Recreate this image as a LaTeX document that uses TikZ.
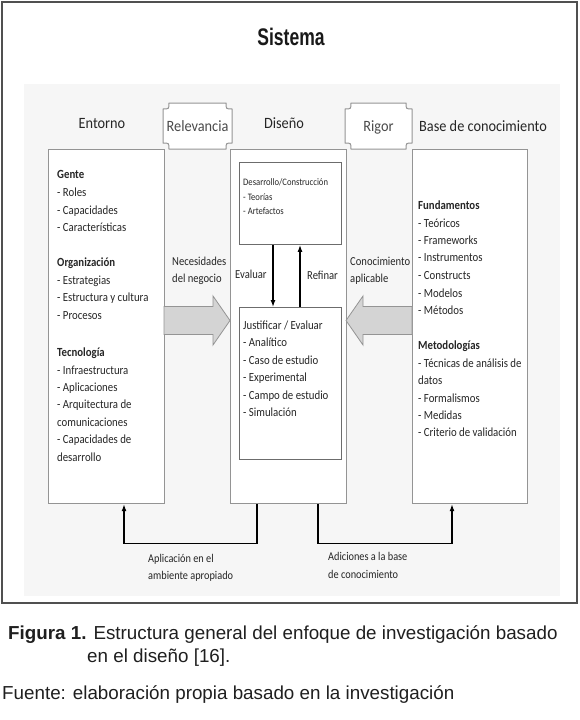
\documentclass[tikz,border=0pt]{standalone}
\usepackage{fontspec}
\setmainfont{Liberation Sans}
\newfontfamily\carl{Carlito}
\usetikzlibrary{arrows.meta}
\newcommand{\vstr}[1]{\scalebox{1}[1.15]{#1}}
\definecolor{boxgray}{HTML}{949494}
\definecolor{inboxgray}{HTML}{6C6C6C}
\definecolor{arrowfill}{HTML}{D4D4D4}
\definecolor{txt}{HTML}{262626}
\definecolor{tagtxt}{HTML}{4A4A4A}
\definecolor{framecol}{HTML}{505050}
\definecolor{bgcol}{HTML}{F6F6F6}
\begin{document}
\begin{tikzpicture}[x=1pt,y=-1pt,
  box/.style={draw=boxgray, line width=1.2pt, fill=white, inner sep=0pt, anchor=north west},
  inbox/.style={draw=inboxgray, line width=0.9pt, fill=white, inner sep=0pt, anchor=north west},
  item/.style={font=\carl\fontsize{10.8}{13}\selectfont, text=txt, anchor=base west, inner sep=0pt},
  smallitem/.style={font=\carl\fontsize{8.6}{10}\selectfont, text=txt, anchor=base west, inner sep=0pt},
  lbl/.style={font=\carl\fontsize{10.6}{13}\selectfont, text=txt, anchor=base west, inner sep=0pt},
  bottomlbl/.style={font=\carl\fontsize{10.3}{13}\selectfont, text=txt, anchor=base west, inner sep=0pt},
  head/.style={font=\carl\fontsize{14.3}{16}\selectfont, text=txt, inner sep=0pt},
  tagtext/.style={font=\carl\fontsize{14.3}{16}\selectfont, text=tagtxt, inner sep=0pt},
  tagst/.style={draw=boxgray, line width=1pt, fill=white},
  bigarrow/.style={fill=arrowfill, draw=boxgray, line width=0.8pt},
  conn/.style={line width=1.3pt, draw=black, -{Latex[length=7pt,width=5pt]}},
  captext/.style={font=\fontsize{18.8}{22}\selectfont, text=black!88, anchor=base west, inner sep=0pt}]
\useasboundingbox (0,0) rectangle (579,720);
\fill[white] (0,0) rectangle (579,720);
\fill[bgcol] (24,84) rectangle (560,596);
\draw[line width=1.5pt, draw=framecol] (2,2) rectangle (577,603);

\node[font=\bfseries\fontsize{24}{28}\selectfont, text=black!90, inner sep=0pt] (title) at (291,37) {\scalebox{0.73}[1]{Sistema}};

% headings
\node[head] (hent) at (102,124) {\scalebox{1}[1.1]{Entorno}};
\node[head] (hdis) at (284,123) {\scalebox{1}[1.1]{Diseño}};
\node[head] (hbase) at (483,126) {\scalebox{1}[1.1]{Base de conocimiento}};

% main boxes
\node[box, minimum width=116pt, minimum height=354pt] (env) at (48,149) {};
\node[box, minimum width=116pt, minimum height=354pt] (des) at (230,149) {};
\node[box, minimum width=115pt, minimum height=354pt] (base) at (412,149) {};
\node[inbox, minimum width=102pt, minimum height=82pt] (dc) at (239,162) {};
\node[inbox, minimum width=102pt, minimum height=152pt] (je) at (239,307) {};

% tags
\draw[tagst] (169,103) -- (226,103) .. controls (226,109) .. (232,109) -- (232,143)
  .. controls (226,143) .. (226,149) -- (169,149) .. controls (169,143) .. (163,143)
  -- (163,109) .. controls (169,109) .. (169,103) -- cycle;
\node[tagtext] (rel) at (197.5,126) {\scalebox{1}[1.1]{Relevancia}};
\draw[tagst] (351,103) -- (406,103) .. controls (406,109) .. (412,109) -- (412,143)
  .. controls (406,143) .. (406,149) -- (351,149) .. controls (351,143) .. (345,143)
  -- (345,109) .. controls (351,109) .. (351,103) -- cycle;
\node[tagtext] (rig) at (378.5,127) {\scalebox{1}[1.1]{Rigor}};

% big arrows
\draw[bigarrow] (164,306.5) -- (213,306.5) -- (213,296) -- (230,320.5) -- (213,345) -- (213,334.5) -- (164,334.5) -- cycle;
\draw[bigarrow] (412,306.5) -- (363,306.5) -- (363,296) -- (346,320.5) -- (363,345) -- (363,334.5) -- (412,334.5) -- cycle;

% left box content
\foreach \yy/\txt [count=\i] in {
  178.5/{\textbf{Gente}}, 196.5/{- Roles}, 214.5/{- Capacidades}, 231.5/{- Características},
  266.5/{\textbf{Organización}}, 284.5/{- Estrategias}, 301.5/{- Estructura y cultura}, 319.5/{- Procesos},
  356.5/{\textbf{Tecnología}}, 374.5/{- Infraestructura}, 391.5/{- Aplicaciones}, 408.5/{- Arquitectura de},
  426.5/{comunicaciones}, 443.5/{- Capacidades de}, 461.5/{desarrollo}}
  \node[item] (e\i) at (57,\yy) {\vstr{\txt}};

% middle top inner content
\node[smallitem] (dc1) at (243,185.5) {\vstr{Desarrollo/Construcción}};
\node[smallitem] (dc2) at (243,200.5) {\vstr{- Teorías}};
\node[smallitem] (dc3) at (243,214.5) {\vstr{- Artefactos}};

% middle bottom inner content
\foreach \yy/\txt [count=\i] in {
  329.5/{Justificar / Evaluar}, 346.5/{- Analítico}, 364.5/{- Caso de estudio},
  381.5/{- Experimental}, 399.5/{- Campo de estudio}, 416.5/{- Simulación}}
  \node[item] (j\i) at (243,\yy) {\vstr{\txt}};

% right box content
\foreach \yy/\txt [count=\i] in {
  209.5/{\textbf{Fundamentos}}, 227.5/{- Teóricos}, 244.5/{- Frameworks}, 261.5/{- Instrumentos},
  279.5/{- Constructs}, 297.5/{- Modelos}, 314.5/{- Métodos},
  349.5/{\textbf{Metodologías}}, 367.5/{- Técnicas de análisis de}, 384.5/{datos},
  402.5/{- Formalismos}, 419.5/{- Medidas}, 436.5/{- Criterio de validación}}
  \node[item] (b\i) at (418,\yy) {\vstr{\txt}};

% labels
\node[lbl] (nec1) at (172,265.5) {\vstr{Necesidades}};
\node[lbl] (nec2) at (172,282.5) {\vstr{del negocio}};
\node[lbl] (con1) at (350,265.5) {\vstr{Conocimiento}};
\node[lbl] (con2) at (350,282.5) {\vstr{aplicable}};
\node[lbl] (eval) at (235,278.5) {\vstr{Evaluar}};
\node[lbl] (ref) at (307,279.5) {\vstr{Refinar}};

% inner connectors
\draw[conn] ([xshift=34pt]dc.south west) -- ([xshift=34pt]je.north west);
\draw[conn] ([xshift=61pt]je.north west) -- ([xshift=61pt]dc.south west);

% bottom connectors
\draw[conn] ([xshift=27pt]des.south west) -- ++(0,39) -| ([xshift=76pt]env.south west);
\draw[conn] ([xshift=88pt]des.south west) -- ++(0,39) -| ([xshift=40pt]base.south west);

\node[bottomlbl] (apl1) at (148,562.5) {\vstr{Aplicación en el}};
\node[bottomlbl] (apl2) at (148,579.5) {\vstr{ambiente apropiado}};
\node[bottomlbl] (adi1) at (328,560.5) {\vstr{Adiciones a la base}};
\node[bottomlbl] (adi2) at (328,578.5) {\vstr{de conocimiento}};

% caption
\node[captext] (fig1) at (8,639) {\textbf{Figura 1.} Estructura general del enfoque de investigación basado};
\node[captext] (fig2) at (87,662) {en el diseño [16].};
\node[captext] (src) at (2,699) {Fuente: elaboración propia basado en la investigación};
\end{tikzpicture}
\end{document}
